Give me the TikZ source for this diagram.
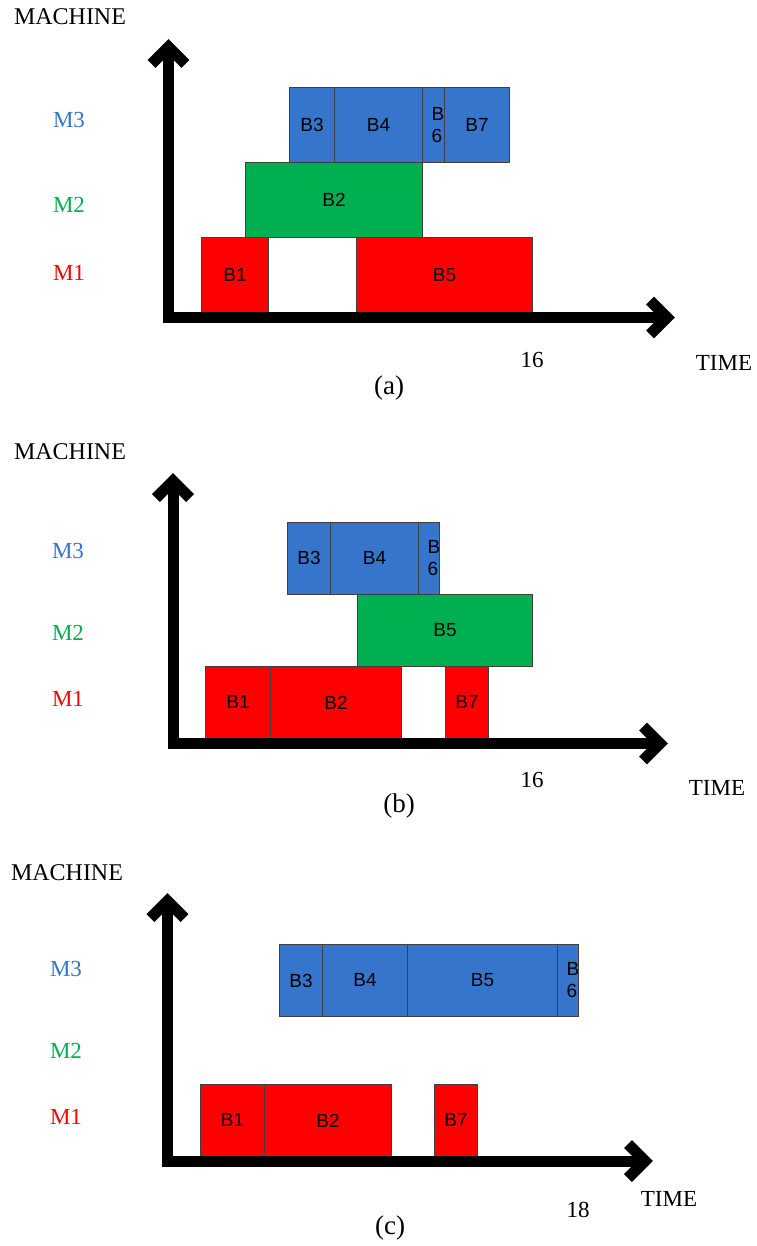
\documentclass[tikz,border=0pt]{standalone}
\usepackage{fontspec}
\setmainfont{Liberation Serif}
\newfontfamily\blkfont{Liberation Sans}
\definecolor{mblue}{HTML}{3575CB}
\definecolor{mgreen}{HTML}{00B050}
\definecolor{mred}{HTML}{FF0000}

% one scheduled job: name, x1, y1, x2, y2, fill colour, label
\newcommand\jobbox[7]{%
  \node[job, fill=#6, anchor=north west,
        minimum width={(#4)-(#2)}, minimum height={(#5)-(#3)}] (#1) at (#2,#3) {#7};}
% a narrow job whose two-line label is cut off at the box edge
\newcommand\narrowjob[6]{%
  \node[job, fill=#6, anchor=north west,
        minimum width={(#4)-(#2)}, minimum height={(#5)-(#3)}] (#1) at (#2,#3) {};
  \begin{scope}
    \clip (#1.north west) rectangle (#1.south east);
    \node[jobtext, anchor=west, align=left] at ([xshift=9.5pt]#1.west) {B\\6};
  \end{scope}}
% axes with open chevron heads: vertical tip, corner, horizontal tip
\newcommand\axes[4]{%
  \coordinate (#1v) at #2;
  \coordinate (#1o) at #3;
  \coordinate (#1h) at #4;
  \draw[axis] (#1v) -- (#1o) -- (#1h);
  \draw[axis] ([shift={(-17,17)}]#1v) -- (#1v) -- ([shift={(17,17)}]#1v);
  \draw[axis] ([shift={(-17,-17)}]#1h) -- (#1h) -- ([shift={(-17,17)}]#1h);}

\begin{document}
\begin{tikzpicture}[x=1pt,y=-1pt,
  axis/.style={line width=11pt, line join=miter, miter limit=10, line cap=butt},
  job/.style={draw=black!75, line width=0.9pt, inner sep=0pt,
              font=\blkfont\fontsize{19}{21}\selectfont},
  jobtext/.style={inner sep=0pt, font=\blkfont\fontsize{19}{22}\selectfont},
  lbl/.style={inner sep=0pt, font=\fontsize{23}{26}\selectfont},
  ttl/.style={inner sep=0pt, font=\fontsize{24}{27}\selectfont},
  subcap/.style={inner sep=0pt, font=\fontsize{27}{30}\selectfont},
]
\useasboundingbox (0,0) rectangle (756,1246);

% ---------------- schedule (a) ----------------
\jobbox{a3}{289}{87}{334}{162}{mblue}{B3}
\jobbox{a4}{334}{87}{422}{162}{mblue}{B4}
\narrowjob{a6}{422}{87}{444}{162}{mblue}
\jobbox{a7}{444}{87}{509}{162}{mblue}{B7}
\jobbox{a2}{245}{162}{422}{237}{mgreen}{B2}
\jobbox{a1}{201}{237}{268}{312}{mred}{B1}
\jobbox{a5}{356}{237}{532}{312}{mred}{B5}
\axes{a}{(168.5,47)}{(168.5,317.5)}{(667,317.5)}

\node[ttl] (amach) at (70,17) {MACHINE};
\node[lbl, text=mblue] (am3) at (69,120) {M3};
\node[lbl, text=mgreen] (am2) at (69,205) {M2};
\node[lbl, text=mred] (am1) at (69,273) {M1};
\node[lbl] (aend) at (532,360) {16};
\node[lbl] (atime) at (724,363) {TIME};
\node[subcap] (acap) at (389,388) {(a)};

% ---------------- schedule (b) ----------------
\jobbox{b3}{287}{522}{330}{594}{mblue}{B3}
\jobbox{b4}{330}{522}{418}{594}{mblue}{B4}
\narrowjob{b6}{418}{522}{439}{594}{mblue}
\jobbox{b5}{357}{594}{532}{666}{mgreen}{B5}
\jobbox{b1}{205}{666}{270}{738}{mred}{B1}
\jobbox{b2}{270}{666}{401}{738}{mred}{B2}
\jobbox{b7}{445}{666}{488}{738}{mred}{B7}
\axes{b}{(173,481)}{(173,743.5)}{(660,743.5)}

\node[ttl] (bmach) at (70,452) {MACHINE};
\node[lbl, text=mblue] (bm3) at (68,551) {M3};
\node[lbl, text=mgreen] (bm2) at (68,633) {M2};
\node[lbl, text=mred] (bm1) at (68,699) {M1};
\node[lbl] (bend) at (532,780) {16};
\node[lbl] (btime) at (717,788) {TIME};
\node[subcap] (bcap) at (399,806) {(b)};

% ---------------- schedule (c) ----------------
\jobbox{c3}{279}{944}{322}{1016}{mblue}{B3}
\jobbox{c4}{322}{944}{407}{1016}{mblue}{B4}
\jobbox{c5}{407}{944}{557}{1016}{mblue}{B5}
\narrowjob{c6}{557}{944}{578}{1016}{mblue}
\jobbox{c1}{200}{1084}{264}{1156}{mred}{B1}
\jobbox{c2}{264}{1084}{391}{1156}{mred}{B2}
\jobbox{c7}{434}{1084}{477}{1156}{mred}{B7}
\axes{c}{(167.5,901)}{(167.5,1161)}{(645,1161)}

\node[ttl] (cmach) at (67,873) {MACHINE};
\node[lbl, text=mblue] (cm3) at (66,969) {M3};
\node[lbl, text=mgreen] (cm2) at (66,1051) {M2};
\node[lbl, text=mred] (cm1) at (66,1117) {M1};
\node[lbl] (cend) at (578,1210) {18};
\node[lbl] (ctime) at (669,1199) {TIME};
\node[subcap] (ccap) at (390,1228) {(c)};
\end{tikzpicture}
\end{document}
